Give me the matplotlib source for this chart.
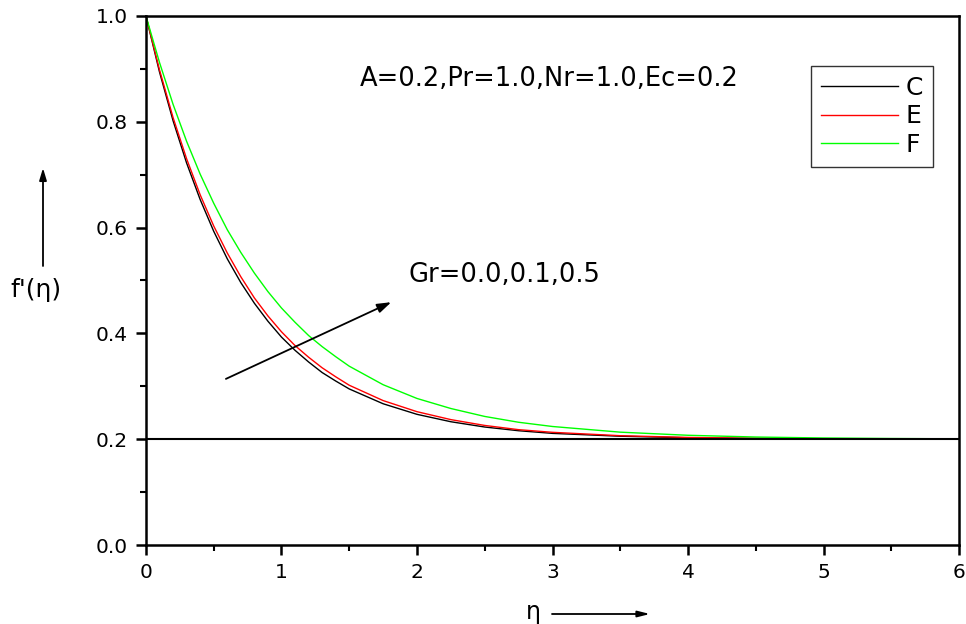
# Velocity profile f'(eta) for several Gr values
import numpy as np
import matplotlib.pyplot as plt

plt.rcParams['font.family'] = ['DejaVu Sans']

# ----------------------------
# data
# ----------------------------
eta = [0.0, 0.1, 0.2, 0.3, 0.4, 0.5, 0.6, 0.7, 0.8, 0.9, 1.0, 1.1, 1.2, 1.3,
       1.4, 1.5, 1.75, 2.0, 2.25, 2.5, 2.75, 3.0, 3.5, 4.0, 4.5, 5.0, 5.5, 6.0]

f_C = [1.000, 0.894, 0.802, 0.722, 0.653, 0.593, 0.541, 0.496, 0.457, 0.423,
       0.393, 0.368, 0.346, 0.326, 0.310, 0.295, 0.267, 0.247, 0.233, 0.223,
       0.216, 0.211, 0.2056, 0.2027, 0.2013, 0.2007, 0.2003, 0.2002]

f_E = [1.000, 0.898, 0.808, 0.730, 0.662, 0.603, 0.552, 0.507, 0.467, 0.433,
       0.403, 0.377, 0.355, 0.335, 0.318, 0.302, 0.273, 0.252, 0.237, 0.226,
       0.218, 0.213, 0.2066, 0.2033, 0.2017, 0.2008, 0.2004, 0.2002]

f_F = [1.000, 0.912, 0.833, 0.763, 0.701, 0.646, 0.596, 0.553, 0.514, 0.479,
       0.448, 0.421, 0.396, 0.375, 0.356, 0.338, 0.303, 0.277, 0.258, 0.243,
       0.232, 0.224, 0.2133, 0.2074, 0.2041, 0.2023, 0.2013, 0.2007]

labels = ['C', 'E', 'F']
colors = ['black', '#ff0000', '#00ff00']
A_value = 0.2  # free stream level

# ----------------------------
# plot
# ----------------------------
fig = plt.figure(figsize=(9.66, 6.24), dpi=100)
ax = fig.add_axes([0.1511, 0.1266, 0.8417, 0.8478])

for f, lab, c in zip([f_C, f_E, f_F], labels, colors):
    ax.plot(eta, f, color=c, lw=1.0, label=lab)

ax.plot([eta[0], eta[-1]], [A_value, A_value], color='black', lw=1.5)

ax.set_xlim(0, 6)
ax.set_ylim(0, 1.0)
ax.set_xticks([0, 1, 2, 3, 4, 5, 6])
ax.set_xticks(np.arange(0.5, 6, 1.0), minor=True)
ax.set_yticks([0.0, 0.2, 0.4, 0.6, 0.8, 1.0])
ax.set_yticks([0.1, 0.3, 0.5, 0.7, 0.9], minor=True)
ax.set_yticklabels(['0.0', '0.2', '0.4', '0.6', '0.8', '1.0'])

for s in ax.spines.values():
    s.set_linewidth(1.8)
ax.tick_params(which='major', direction='out', length=7.5, width=1.8,
               labelsize=14.5, pad=5.5)
ax.tick_params(which='minor', direction='out', length=4, width=1.5)

ax.text(1.579, 0.868, 'A=0.2,Pr=1.0,Nr=1.0,Ec=0.2', fontsize=18.5,
        va='baseline', ha='left')
ax.text(1.934, 0.4966, 'Gr=0.0,0.1,0.5', fontsize=18.5,
        va='baseline', ha='left')
ax.annotate('', xy=(1.81, 0.459), xytext=(0.59, 0.314),
            arrowprops=dict(arrowstyle='-|>,head_length=0.6,head_width=0.2',
                            color='black', lw=1.3, mutation_scale=14,
                            shrinkA=0, shrinkB=0))

leg = ax.legend(loc='upper right', bbox_to_anchor=(0.968, 0.9055),
                borderaxespad=0, fontsize=18, frameon=True, fancybox=False,
                edgecolor='black', handlelength=3.1, handletextpad=0.3,
                labelspacing=0.18, borderpad=0.4)
leg.get_frame().set_linewidth(1.0)

# axis labels with arrows (outside the axes)
fig.text(36 / 966, 1 - 290 / 624, "f'(\u03b7)", fontsize=18,
         ha='center', va='center')
ax.annotate('', xy=(43 / 966, 1 - 168 / 624), xytext=(43 / 966, 1 - 266 / 624),
            xycoords='figure fraction', textcoords='figure fraction',
            arrowprops=dict(arrowstyle='-|>,head_length=0.6,head_width=0.18',
                            color='black', lw=1.3, mutation_scale=12,
                            shrinkA=0, shrinkB=0))
fig.text(533 / 966, 1 - 612 / 624, '\u03b7', fontsize=17,
         ha='center', va='center')
ax.annotate('', xy=(650 / 966, 1 - 614 / 624), xytext=(552 / 966, 1 - 614 / 624),
            xycoords='figure fraction', textcoords='figure fraction',
            arrowprops=dict(arrowstyle='-|>,head_length=0.6,head_width=0.15',
                            color='black', lw=1.3, mutation_scale=12,
                            shrinkA=0, shrinkB=0))

fig.savefig('out.png', dpi=100)
